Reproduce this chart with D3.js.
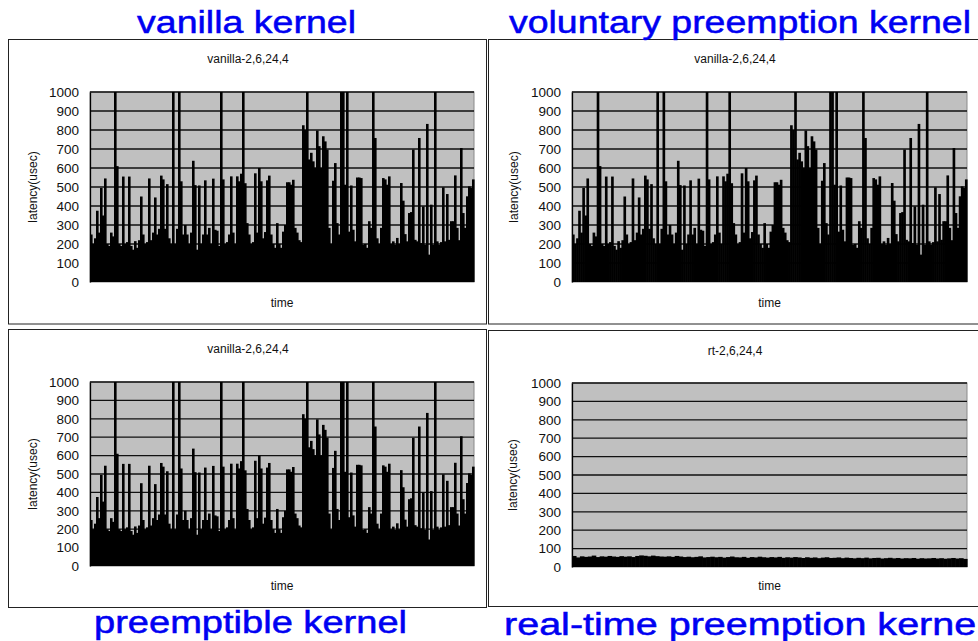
<!DOCTYPE html>
<html>
<head>
<meta charset="utf-8">
<script src="https://cdn.jsdelivr.net/npm/d3@7"></script>
<style>
  body { margin: 0; background: #fff; overflow: hidden; }
  text { font-family: "Liberation Sans", Arial, sans-serif; }
</style>
</head>
<body>
<div id="chart"></div>
<script>
// latency samples (usec)
var vanillaLatency = [
  250, 200, 230, 375, 260, 495, 350, 545, 200, 190,
  260, 240, 1000, 610, 200, 190, 555, 200, 210, 555,
  190, 170, 215, 180, 220, 450, 250, 200, 210, 545,
  220, 260, 445, 250, 280, 560, 540, 280, 515, 230,
  200, 1000, 200, 280, 1000, 530, 250, 300, 250, 200,
  260, 638, 510, 170, 508, 200, 250, 535, 250, 285,
  200, 544, 275, 270, 190, 1000, 540, 200, 210, 250,
  556, 260, 200, 556, 530, 570, 1000, 520, 310, 250,
  200, 210, 572, 260, 600, 530, 230, 263, 535, 560,
  250, 200, 180, 310, 200, 180, 265, 300, 525, 525,
  512, 538, 285, 260, 220, 210, 825, 800, 1000, 645,
  680, 635, 600, 797, 715, 600, 767, 740, 697, 285,
  200, 533, 626, 310, 250, 1000, 1000, 512, 1000, 265,
  508, 275, 214, 550, 550, 547, 196, 200, 180, 320,
  285, 1000, 758, 230, 200, 285, 547, 540, 512, 556,
  200, 214, 196, 232, 200, 521, 428, 252, 214, 363,
  368, 697, 222, 214, 758, 205, 398, 196, 832, 144,
  407, 196, 1000, 214, 196, 210, 498, 214, 463, 222,
  320, 320, 561, 285, 220, 705, 363, 285, 451, 503,
  495, 540
];

var rtLatency = [
  60, 52, 58, 55, 57, 62, 54, 58, 56, 60,
  57, 55, 59, 56, 58, 54, 60, 63, 61, 58,
  62, 59, 57, 56, 58, 55, 60, 57, 54, 56,
  53, 55, 58, 52, 54, 56, 53, 55, 51, 54,
  57, 53, 52, 55, 50, 54, 52, 56, 53, 51,
  54, 52, 55, 50, 53, 51, 54, 52, 49, 53,
  50, 52, 48, 51, 53, 49, 50, 52, 48, 51,
  49, 47, 50, 48, 51, 47, 49, 50, 46, 48,
  50, 47, 49, 46, 48, 47, 49, 45, 48, 46,
  47, 49, 46, 48, 45, 47, 49, 46, 48, 44
];

var yTicks = [0, 100, 200, 300, 400, 500, 600, 700, 800, 900, 1000];
var kernelNames = ["vanilla kernel", "voluntary preemption kernel", "preemptible kernel", "real-time preemption kernel"];
var chartNames = ["vanilla-2,6,24,4", "vanilla-2,6,24,4", "vanilla-2,6,24,4", "rt-2,6,24,4"];
var seriesList = [vanillaLatency, vanillaLatency, vanillaLatency, rtLatency];

var width = 978;
var height = 641;

var svg = d3.select("#chart")
    .append("svg")
    .attr("width", width)
    .attr("height", height);

// layout of the four screenshots
var panels = [
  { box: [8.5, 39.5, 478, 284.5], plot: [90, 92, 474, 282], cx: 248, subY: 63, labX: 33, timeY: 307,
    head: [137, 33, 219] },
  { box: [488.5, 39.5, 500, 284.5], plot: [572, 92, 967, 282], cx: 735, subY: 63, labX: 514, timeY: 307,
    head: [509, 33, 462] },
  { box: [8.5, 329.5, 478, 278], plot: [90, 382, 474, 566], cx: 248, subY: 353, labX: 33, timeY: 590,
    head: [94, 633, 313] },
  { box: [488.5, 330.5, 500, 276], plot: [572, 383, 967, 567], cx: 735, subY: 355, labX: 513, timeY: 590,
    head: [504, 635, 481] }
];

panels.forEach(function(p, k) {
  var data = seriesList[k];
  var g = svg.append("g").attr("class", "panel");

  g.append("rect")
    .attr("x", p.box[0]).attr("y", p.box[1])
    .attr("width", p.box[2]).attr("height", p.box[3])
    .attr("fill", "#fff")
    .attr("stroke", "#222")
    .attr("stroke-width", 1);

  var x = d3.scaleBand()
    .domain(d3.range(data.length))
    .range([p.plot[0], p.plot[2]])
    .padding(0);

  var y = d3.scaleLinear()
    .domain([0, 1000])
    .range([p.plot[3], p.plot[1]]);

  g.append("rect")
    .attr("x", p.plot[0]).attr("y", p.plot[1])
    .attr("width", p.plot[2] - p.plot[0])
    .attr("height", p.plot[3] - p.plot[1])
    .attr("fill", "#c0c0c0")
    .attr("stroke", "#8a8a8a");

  // gridlines
  g.selectAll(".grid")
    .data(yTicks.slice(1))
    .enter().append("line")
    .attr("x1", p.plot[0]).attr("x2", p.plot[2])
    .attr("y1", function(d) { return y(d); })
    .attr("y2", function(d) { return y(d); })
    .attr("stroke", "#111")
    .attr("stroke-width", 1.3);

  g.selectAll(".bar")
    .data(data)
    .enter().append("rect")
    .attr("x", function(d, i) { return x(i); })
    .attr("width", x.bandwidth() + 0.6)
    .attr("y", function(d) { return y(d); })
    .attr("height", function(d) { return y(0) - y(d); })
    .attr("fill", "#000");

  var yAxis = g.append("g")
    .attr("transform", "translate(" + p.plot[0] + ",0)")
    .call(d3.axisLeft(y).tickValues(yTicks).tickFormat(d3.format("d")).tickSize(0).tickPadding(11));
  yAxis.select(".domain").attr("stroke", "#000").attr("stroke-width", 1.3);
  yAxis.selectAll("text")
    .attr("fill", "#111")
    .style("font-size", "13.5px")
    .style("font-family", "'Liberation Sans', Arial, sans-serif");

  g.append("text")
    .attr("x", p.cx).attr("y", p.subY)
    .attr("text-anchor", "middle")
    .attr("font-size", "12px")
    .attr("fill", "#111")
    .text(chartNames[k]);

  g.append("text")
    .attr("transform", "translate(" + p.labX + "," + (p.plot[1] + p.plot[3]) / 2 + ")rotate(-90)")
    .attr("text-anchor", "middle")
    .attr("dy", "0.35em")
    .attr("font-size", "12px")
    .attr("fill", "#111")
    .text("latency(usec)");

  g.append("text")
    .attr("x", (p.plot[0] + p.plot[2]) / 2).attr("y", p.timeY)
    .attr("text-anchor", "middle")
    .attr("font-size", "12px")
    .attr("fill", "#111")
    .text("time");

  svg.append("text")
    .attr("x", p.head[0]).attr("y", p.head[1])
    .attr("textLength", p.head[2])
    .attr("lengthAdjust", "spacingAndGlyphs")
    .attr("font-size", "31px")
    .attr("fill", "#0000f2")
    .attr("stroke", "#0000f2")
    .attr("stroke-width", 0.5)
    .text(kernelNames[k]);
});
</script>
</body>
</html>
